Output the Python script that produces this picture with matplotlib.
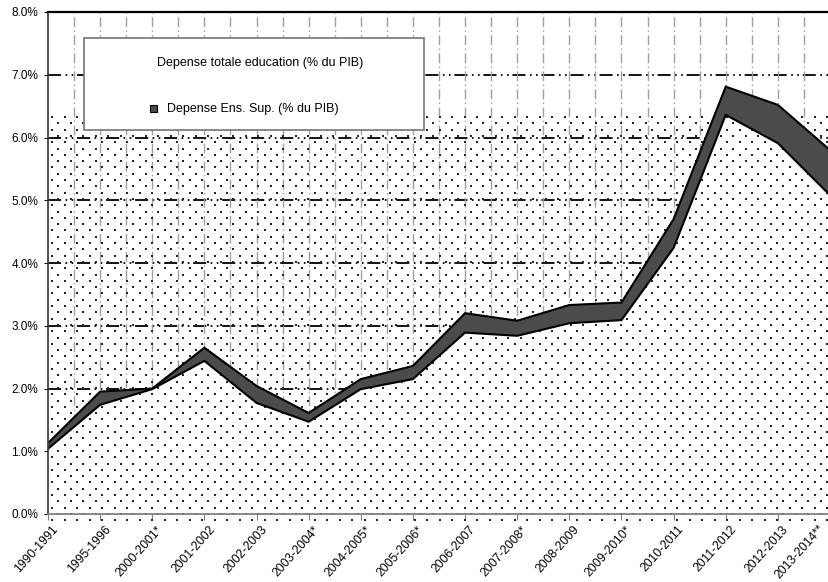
import matplotlib
matplotlib.use("Agg")
import matplotlib.pyplot as plt
from matplotlib.patches import Rectangle
import matplotlib.transforms as mtransforms
import numpy as np

plt.rcParams['font.family'] = ['Liberation Sans', 'DejaVu Sans']
plt.rcParams['lines.scale_dashes'] = False

categories = ["1990-1991", "1995-1996", "2000-2001*", "2001-2002", "2002-2003",
              "2003-2004*", "2004-2005*", "2005-2006*", "2006-2007", "2007-2008*",
              "2008-2009", "2009-2010*", "2010-2011", "2011-2012", "2012-2013",
              "2013-2014**"]
# lower curve (top of dotted area), % of GDP
totale = [1.04, 1.74, 1.99, 2.44, 1.77, 1.47, 1.99, 2.15, 2.89, 2.84,
          3.04, 3.09, 4.24, 6.36, 5.91, 5.08]
# upper curve (top of dark band), % of GDP
upper = [1.13, 1.95, 2.00, 2.65, 2.04, 1.61, 2.15, 2.36, 3.20, 3.08,
         3.33, 3.37, 4.70, 6.81, 6.52, 5.80]
yticks = [0, 1, 2, 3, 4, 5, 6, 7, 8]
label_totale = "Depense totale education (% du PIB)"
label_sup = "Depense Ens. Sup. (% du PIB)"

W, H = 829, 582
fig = plt.figure(figsize=(W / 100, H / 100), dpi=100)
ax_left, ax_right, ax_top, ax_bottom = 48, 830, 12, 514
ax = fig.add_axes([ax_left / W, (H - ax_bottom) / H, (ax_right - ax_left) / W,
                   (ax_bottom - ax_top) / H])

x = np.arange(len(categories))
xmax = len(categories) - 1
ax.set_xlim(0, xmax)
ax.set_ylim(0, 8)

# gridlines
for yv in yticks[1:-1]:
    ax.axhline(yv, color='black', lw=1.3, dashes=(9.4, 3.2, 1.2, 3.2, 1.2, 2.7), zorder=1)
for k in range(1, 2 * xmax + 1):
    ax.axvline(k * 0.5, color='#a0a0a0', lw=1.0, dashes=(7, 2.5, 1, 2.5), zorder=1)

# lower area (opaque, hides grid)
ax.fill_between(x, 0, totale, facecolor='white', lw=0, zorder=2)

# dotted texture (staggered grid, ~12.5 px x 6.3 px)
px_x = (ax_right - ax_left) / xmax
px_y = (ax_bottom - ax_top) / 8.0
dx = 12.5 / px_x
dy = 6.3 / px_y
dots_x, dots_y = [], []
for r, yy in enumerate(np.arange(-0.1, 6.36, dy)):
    start = 0.08 + (dx / 2 if r % 2 else 0.0)
    xs = np.arange(start, xmax, dx)
    dots_x.extend(xs)
    dots_y.extend([yy] * len(xs))
ax.scatter(dots_x, dots_y, s=2.2, marker='s', color='#262626', linewidths=0,
           zorder=2.5, clip_on=False)

# band
ax.fill_between(x, totale, upper, facecolor='#4b4b4b', lw=0, zorder=3)
ax.plot(x, upper, color='black', lw=1.5, zorder=4, solid_joinstyle='miter')
ax.plot(x, totale, color='black', lw=1.5, zorder=4, solid_joinstyle='miter')

# axes styling
ax.set_yticks(yticks)
ax.set_yticklabels([f"{v:.1f}%" for v in yticks], fontsize=8.5)
ax.set_xticks(x)
ax.set_xticklabels(categories, fontsize=8.7, rotation=48, ha='right',
                   rotation_mode='anchor')
ax.tick_params(axis='y', length=3, color='black', pad=4)
ax.tick_params(axis='x', length=4, color='#808080', pad=3)
labels = ax.get_xticklabels()
for i, lab in enumerate(labels):
    sx, sy = (4, 0) if i < len(labels) - 1 else (-12, 1)
    off = mtransforms.ScaledTranslation(sx / 100, sy / 100, fig.dpi_scale_trans)
    lab.set_transform(lab.get_transform() + off)
ax.spines['right'].set_visible(False)
ax.spines['top'].set_color('black')
ax.spines['top'].set_linewidth(1.6)
ax.spines['left'].set_color('#404040')
ax.spines['left'].set_linewidth(1.3)
ax.spines['bottom'].set_color('#808080')
ax.spines['bottom'].set_linewidth(1.3)
for s in ax.spines.values():
    s.set_zorder(6)

# legend (manual box)
fig.add_artist(Rectangle((84 / W, (H - 130) / H), 340 / W, 92 / H, transform=fig.transFigure,
                         facecolor='white', edgecolor='#808080', lw=1.3, zorder=5))
fig.text(260 / W, 1 - 63 / H, label_totale, ha='center', va='center', fontsize=9, zorder=6)
fig.add_artist(Rectangle((150 / W, (H - 112) / H), 7 / W, 7 / H, transform=fig.transFigure,
                         facecolor='#4b4b4b', edgecolor='black', lw=0.8, zorder=6))
fig.text(167 / W, 1 - 109 / H, label_sup, ha='left', va='center', fontsize=9, zorder=6)

fig.savefig("out.png", dpi=100)
